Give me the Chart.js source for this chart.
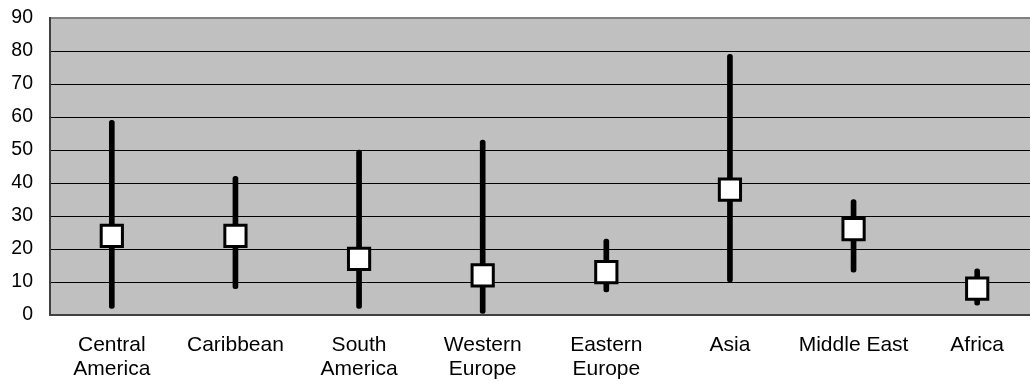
<!DOCTYPE html>
<html>
<head>
<meta charset="utf-8">
<script src="https://cdn.jsdelivr.net/npm/chart.js@4"></script>
<style>
    html, body { margin: 0; padding: 0; background: #fff; overflow: hidden; }
    #wrap { position: relative; width: 1040px; height: 388px; }
</style>
</head>
<body>
<div id="wrap"><canvas id="chart"></canvas></div>
<script>
const regions = [['Central', 'America'], 'Caribbean', ['South', 'America'], ['Western', 'Europe'],
    ['Eastern', 'Europe'], 'Asia', 'Middle East', 'Africa'];
const lowValues = [2, 8, 2, 0.5, 7, 10, 13, 3];
const highValues = [59, 42, 50, 53, 23, 79, 35, 14];
const midValues = [24, 24, 17, 12, 13, 38, 26, 8];
const yTicks = [0, 10, 20, 30, 40, 50, 60, 70, 80, 90];

// gray plot area behind the grid
const plotBackground = {
    id: 'plotBackground',
    beforeDraw(chart) {
        const { ctx, chartArea } = chart;
        ctx.save();
        ctx.fillStyle = '#c0c0c0';
        ctx.fillRect(chartArea.left, chartArea.top, chartArea.right - chartArea.left, chartArea.bottom - chartArea.top);
        ctx.restore();
    }
};

const family = '"Liberation Sans", Arial, sans-serif';

new Chart(document.getElementById('chart'), {
    type: 'bar',
    data: {
        labels: regions,
        datasets: [
            {
                type: 'line',
                data: midValues,
                showLine: false,
                pointStyle: 'rect',
                pointRadius: 15,
                pointBackgroundColor: '#ffffff',
                pointBorderColor: '#000000',
                pointBorderWidth: 3,
                order: 0
            },
            {
                data: lowValues.map((v, i) => [v, highValues[i]]),
                backgroundColor: '#000000',
                barThickness: 5,
                borderRadius: 2.5,
                borderSkipped: false,
                order: 1
            }
        ]
    },
    options: {
        responsive: true,
        maintainAspectRatio: false,
        animation: false,
        layout: { autoPadding: false, padding: { top: 18, right: 1, left: 0, bottom: 0 } },
        plugins: {
            legend: { display: false },
            tooltip: { enabled: false }
        },
        scales: {
            x: {
                grid: { display: false, drawTicks: false },
                border: { color: '#404040', width: 2 },
                ticks: {
                    color: '#000',
                    font: { family: family, size: 21, lineHeight: 1.14 },
                    padding: 18,
                    maxRotation: 0,
                    autoSkip: false
                },
                afterFit(scale) {
                    scale.height = 73;
                    scale.paddingTop = 0;
                    scale.paddingBottom = 0;
                }
            },
            y: {
                min: 0,
                max: 90,
                afterBuildTicks(scale) { scale.ticks = yTicks.map(v => ({ value: v })); },
                grid: {
                    drawTicks: false,
                    color: ctx => (ctx.tick && ctx.tick.value === 90 ? '#808080' : '#000000'),
                    lineWidth: ctx => (ctx.tick && ctx.tick.value === 90 ? 2 : 1)
                },
                border: { color: '#404040', width: 2 },
                ticks: { color: '#000', font: { family: family, size: 19.5, lineHeight: 1.2 }, padding: 17 },
                afterFit(scale) {
                    scale.width = 50;
                    scale.paddingTop = 0;
                    scale.paddingBottom = 0;
                }
            }
        }
    },
    plugins: [plotBackground]
});
</script>
</body>
</html>
